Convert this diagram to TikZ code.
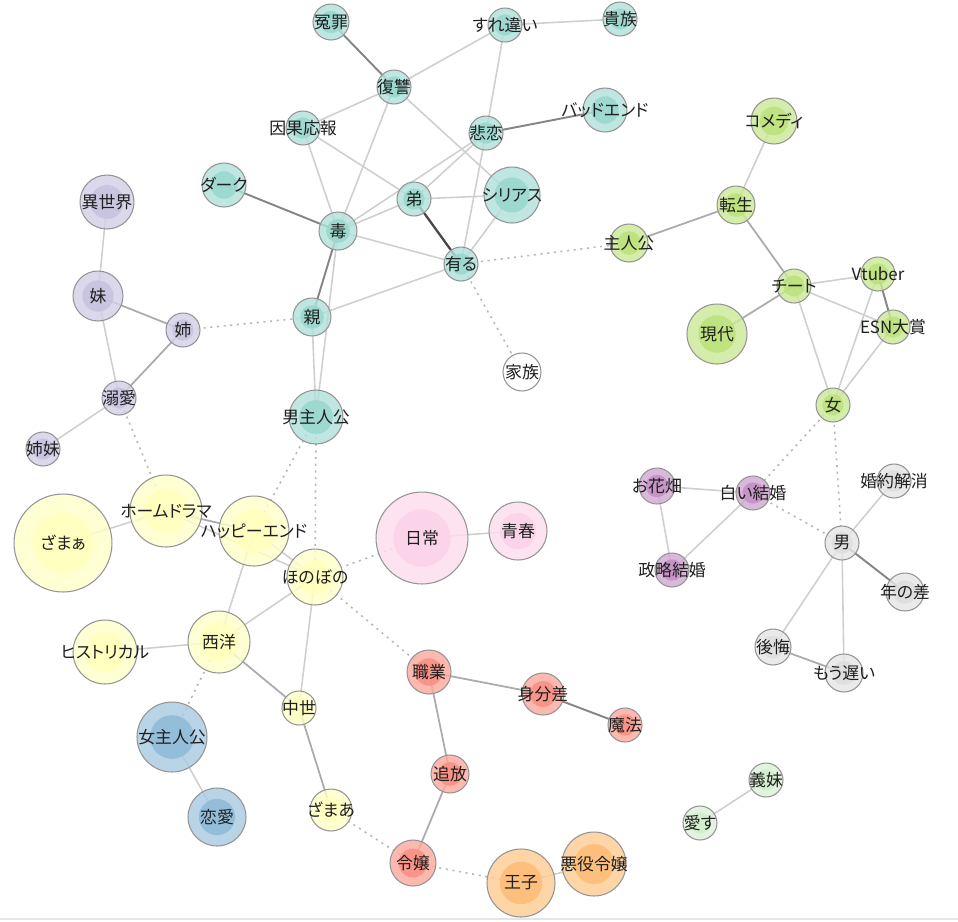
\documentclass[tikz,border=0pt]{standalone}
\usepackage{fontspec}
\newfontfamily\jpfont[RawFeature=+palt]{Noto Sans CJK JP}
\usetikzlibrary{backgrounds}

\definecolor{cteal}{HTML}{8DD3C7}
\definecolor{cyel}{HTML}{FFFFB3}
\definecolor{clav}{HTML}{BEBADA}
\definecolor{cred}{HTML}{FB8072}
\definecolor{cblue}{HTML}{80B1D3}
\definecolor{corange}{HTML}{FDB462}
\definecolor{cgreen}{HTML}{B3DE69}
\definecolor{cpink}{HTML}{FCCDE5}
\definecolor{cgrey}{HTML}{D9D9D9}
\definecolor{cpurp}{HTML}{BC80BD}
\definecolor{cmint}{HTML}{CCEBC5}

\newcommand{\kwtext}[1]{\makebox[0pt]{#1}}

\begin{document}
\begin{tikzpicture}[x=0.02cm, y=-0.02cm,
    kw/.style 2 args={circle, draw=black!42, line width=0.6pt, inner sep=0pt,
        minimum size=#2*0.04cm, fill=#1!68!white, fill opacity=0.82, text opacity=1,
        text=black!88, font=\jpfont\fontsize{9.6}{10}\selectfont,
        path picture={\fill[#1!90!white] (path picture bounding box.center) circle (#2*0.0125cm);}},
    lt/.style={draw=black!19, line width=0.9pt},
    md/.style={draw=black!33, line width=1pt},
    dk/.style={draw=black!48, line width=1.1pt},
    dkst/.style={draw=black!72, line width=1.3pt},
    dt/.style={draw=black!28, line width=0.9pt, dash pattern=on 1.2pt off 2.6pt}]
    
    \useasboundingbox (0,0) rectangle (958,921);
    \draw[black!10, line width=1.2pt] (0,919) -- (958,919);
    
    % Nodes
    \node[kw={cteal}{18}] (enzai) at (331,22) {\kwtext{冤罪}};
    \node[kw={cteal}{17}] (surechigai) at (505,25) {\kwtext{すれ違い}};
    \node[kw={cteal}{17}] (kizoku) at (620,19) {\kwtext{貴族}};
    \node[kw={cteal}{17}] (fukushu) at (394,87) {\kwtext{復讐}};
    \node[kw={cteal}{22}] (baddoendo) at (605,110) {\kwtext{バッドエンド}};
    \node[kw={cteal}{17}] (ingaouhou) at (303,128) {\kwtext{因果応報}};
    \node[kw={cteal}{17}] (hiren) at (486,133) {\kwtext{悲恋}};
    \node[kw={cteal}{22}] (daaku) at (224,185) {\kwtext{ダーク}};
    \node[kw={cteal}{17}] (otouto) at (414,199) {\kwtext{弟}};
    \node[kw={cteal}{28}] (shiriasu) at (512,195) {\kwtext{シリアス}};
    \node[kw={cteal}{19}] (doku) at (338,231) {\kwtext{毒}};
    \node[kw={cteal}{17}] (aru) at (461,264) {\kwtext{有る}};
    \node[kw={cteal}{19}] (oya) at (312,317) {\kwtext{親}};
    \node[kw={cteal}{27}] (otokoshu) at (316,417) {\kwtext{男主人公}};
    \node[kw={white}{19}] (kazoku) at (522,372) {\kwtext{家族}};
    
    \node[kw={clav}{27}] (isekai) at (107,202) {\kwtext{異世界}};
    \node[kw={clav}{25}] (imouto) at (98,296) {\kwtext{妹}};
    \node[kw={clav}{17}] (ane) at (183,330) {\kwtext{姉}};
    \node[kw={clav}{17}] (dekiai) at (119,398) {\kwtext{溺愛}};
    \node[kw={clav}{17}] (shimai) at (43,449) {\kwtext{姉妹}};
    
    \node[kw={cgreen}{19}] (shujinko) at (629,243) {\kwtext{主人公}};
    \node[kw={cgreen}{23}] (komedi) at (774,121) {\kwtext{コメディ}};
    \node[kw={cgreen}{19}] (tensei) at (736,205) {\kwtext{転生}};
    \node[kw={cgreen}{17}] (chiito) at (794,286) {\kwtext{チート}};
    \node[kw={cgreen}{17}] (vtuber) at (878,274) {\kwtext{Vtuber}};
    \node[kw={cgreen}{17}] (esn) at (893,327) {\kwtext{ESN大賞}};
    \node[kw={cgreen}{30}] (gendai) at (717,334) {\kwtext{現代}};
    \node[kw={cgreen}{17}] (onna) at (833,405) {\kwtext{女}};
    
    \node[kw={cyel}{49}] (zamaa) at (63,543) {\kwtext{ざまぁ}};
    \node[kw={cyel}{36}] (homudorama) at (166,511) {\kwtext{ホームドラマ}};
    \node[kw={cyel}{35}] (happiiendo) at (254,531) {\kwtext{ハッピーエンド}};
    \node[kw={cyel}{28}] (honobono) at (315,577) {\kwtext{ほのぼの}};
    \node[kw={cyel}{32}] (hisutorikaru) at (105,652) {\kwtext{ヒストリカル}};
    \node[kw={cyel}{31}] (seiyou) at (219,642) {\kwtext{西洋}};
    \node[kw={cyel}{17}] (chusei) at (299,708) {\kwtext{中世}};
    \node[kw={cyel}{21}] (zamaa2) at (331,810) {\kwtext{ざまあ}};
    
    \node[kw={cpink}{46}] (nichijou) at (422,538) {\kwtext{日常}};
    \node[kw={cpink}{29}] (seishun) at (518,531) {\kwtext{青春}};
    
    \node[kw={cblue}{35}] (onnashu) at (172,737) {\kwtext{女主人公}};
    \node[kw={cblue}{29}] (renai) at (217,817) {\kwtext{恋愛}};
    
    \node[kw={cred}{22}] (shokugyou) at (429,672) {\kwtext{職業}};
    \node[kw={cred}{21}] (mibunsa) at (543,694) {\kwtext{身分差}};
    \node[kw={cred}{17}] (mahou) at (625,725) {\kwtext{魔法}};
    \node[kw={cred}{19}] (tsuihou) at (450,774) {\kwtext{追放}};
    \node[kw={cred}{23}] (reijou) at (413,863) {\kwtext{令嬢}};
    
    \node[kw={corange}{34}] (ouji) at (521,883) {\kwtext{王子}};
    \node[kw={corange}{32}] (akuyaku) at (594,864) {\kwtext{悪役令嬢}};
    
    \node[kw={cpurp}{18}] (ohanabatake) at (657,486) {\kwtext{お花畑}};
    \node[kw={cpurp}{17}] (shiroi) at (753,493) {\kwtext{白い結婚}};
    \node[kw={cpurp}{17}] (seiryaku) at (672,570) {\kwtext{政略結婚}};
    
    \node[kw={cgrey}{17}] (otoko) at (842,543) {\kwtext{男}};
    \node[kw={cgrey}{17}] (konyaku) at (894,481) {\kwtext{婚約解消}};
    \node[kw={cgrey}{19}] (toshinosa) at (905,592) {\kwtext{年の差}};
    \node[kw={cgrey}{18}] (koukai) at (773,647) {\kwtext{後悔}};
    \node[kw={cgrey}{19}] (mouosoi) at (844,673) {\kwtext{もう遅い}};
    
    \node[kw={cmint}{17}] (gimai) at (766,780) {\kwtext{義妹}};
    \node[kw={cmint}{17}] (aisu) at (700,823) {\kwtext{愛す}};
    
    % Edges
    \begin{scope}[on background layer]
    \draw[lt] (fukushu.center) -- (surechigai.center);
    \draw[lt] (surechigai.center) -- (kizoku.center);
    \draw[lt] (fukushu.center) -- (ingaouhou.center);
    \draw[lt] (fukushu.center) -- (doku.center);
    \draw[lt] (fukushu.center) -- (shiriasu.center);
    \draw[lt] (surechigai.center) -- (hiren.center);
    \draw[lt] (hiren.center) -- (aru.center);
    \draw[lt] (ingaouhou.center) -- (doku.center);
    \draw[lt] (ingaouhou.center) -- (otouto.center);
    \draw[lt] (hiren.center) -- (otouto.center);
    \draw[lt] (hiren.center) -- (doku.center);
    \draw[lt] (otouto.center) -- (shiriasu.center);
    \draw[lt] (otouto.center) -- (doku.center);
    \draw[lt] (shiriasu.center) -- (aru.center);
    \draw[lt] (doku.center) -- (aru.center);
    \draw[lt] (aru.center) -- (oya.center);
    \draw[lt] (doku.center) -- (otokoshu.center);
    \draw[lt] (oya.center) -- (otokoshu.center);
    \draw[lt] (isekai.center) -- (imouto.center);
    \draw[lt] (imouto.center) -- (dekiai.center);
    \draw[lt] (dekiai.center) -- (shimai.center);
    \draw[lt] (komedi.center) -- (tensei.center);
    \draw[lt] (chiito.center) -- (vtuber.center);
    \draw[lt] (chiito.center) -- (esn.center);
    \draw[lt] (chiito.center) -- (onna.center);
    \draw[lt] (vtuber.center) -- (onna.center);
    \draw[lt] (esn.center) -- (onna.center);
    \draw[lt] (zamaa.center) -- (homudorama.center);
    \draw[lt] (homudorama.center) -- (honobono.center);
    \draw[lt] (happiiendo.center) -- (honobono.center);
    \draw[lt] (happiiendo.center) -- (seiyou.center);
    \draw[lt] (honobono.center) -- (seiyou.center);
    \draw[lt] (honobono.center) -- (chusei.center);
    \draw[lt] (seiyou.center) -- (hisutorikaru.center);
    \draw[lt] (nichijou.center) -- (seishun.center);
    \draw[lt] (onnashu.center) -- (renai.center);
    \draw[lt] (ohanabatake.center) -- (shiroi.center);
    \draw[lt] (ohanabatake.center) -- (seiryaku.center);
    \draw[lt] (shiroi.center) -- (seiryaku.center);
    \draw[lt] (otoko.center) -- (konyaku.center);
    \draw[lt] (otoko.center) -- (koukai.center);
    \draw[lt] (otoko.center) -- (mouosoi.center);
    \draw[lt] (gimai.center) -- (aisu.center);
    \draw[lt] (ouji.center) -- (akuyaku.center);
    
    \draw[md] (homudorama.center) -- (happiiendo.center);
    \draw[md] (seiyou.center) -- (chusei.center);
    \draw[md] (shokugyou.center) -- (mibunsa.center);
    \draw[md] (shokugyou.center) -- (tsuihou.center);
    \draw[md] (tsuihou.center) -- (reijou.center);
    \draw[md] (imouto.center) -- (ane.center);
    \draw[md] (ane.center) -- (dekiai.center);
    \draw[md] (koukai.center) -- (mouosoi.center);
    \draw[md] (chusei.center) -- (zamaa2.center);
    \draw[md] (tensei.center) -- (shujinko.center);
    \draw[md] (tensei.center) -- (chiito.center);
    \draw[md] (chiito.center) -- (gendai.center);
    
    \draw[dk] (enzai.center) -- (fukushu.center);
    \draw[dk] (hiren.center) -- (baddoendo.center);
    \draw[dk] (doku.center) -- (daaku.center);
    \draw[dk] (doku.center) -- (oya.center);
    \draw[dk] (vtuber.center) -- (esn.center);
    \draw[dk] (otoko.center) -- (toshinosa.center);
    \draw[dk] (mibunsa.center) -- (mahou.center);
    \draw[dkst] (otouto.center) -- (aru.center);
    
    \draw[dt] (aru.center) -- (shujinko.center);
    \draw[dt] (aru.center) -- (kazoku.center);
    \draw[dt] (oya.center) -- (ane.center);
    \draw[dt] (dekiai.center) -- (homudorama.center);
    \draw[dt] (otokoshu.center) -- (happiiendo.center);
    \draw[dt] (otokoshu.center) -- (honobono.center);
    \draw[dt] (honobono.center) -- (nichijou.center);
    \draw[dt] (honobono.center) -- (shokugyou.center);
    \draw[dt] (seiyou.center) -- (onnashu.center);
    \draw[dt] (zamaa2.center) -- (reijou.center);
    \draw[dt] (reijou.center) -- (ouji.center);
    \draw[dt] (onna.center) -- (shiroi.center);
    \draw[dt] (onna.center) -- (otoko.center);
    \draw[dt] (shiroi.center) -- (otoko.center);
    \end{scope}
    
\end{tikzpicture}
\end{document}
